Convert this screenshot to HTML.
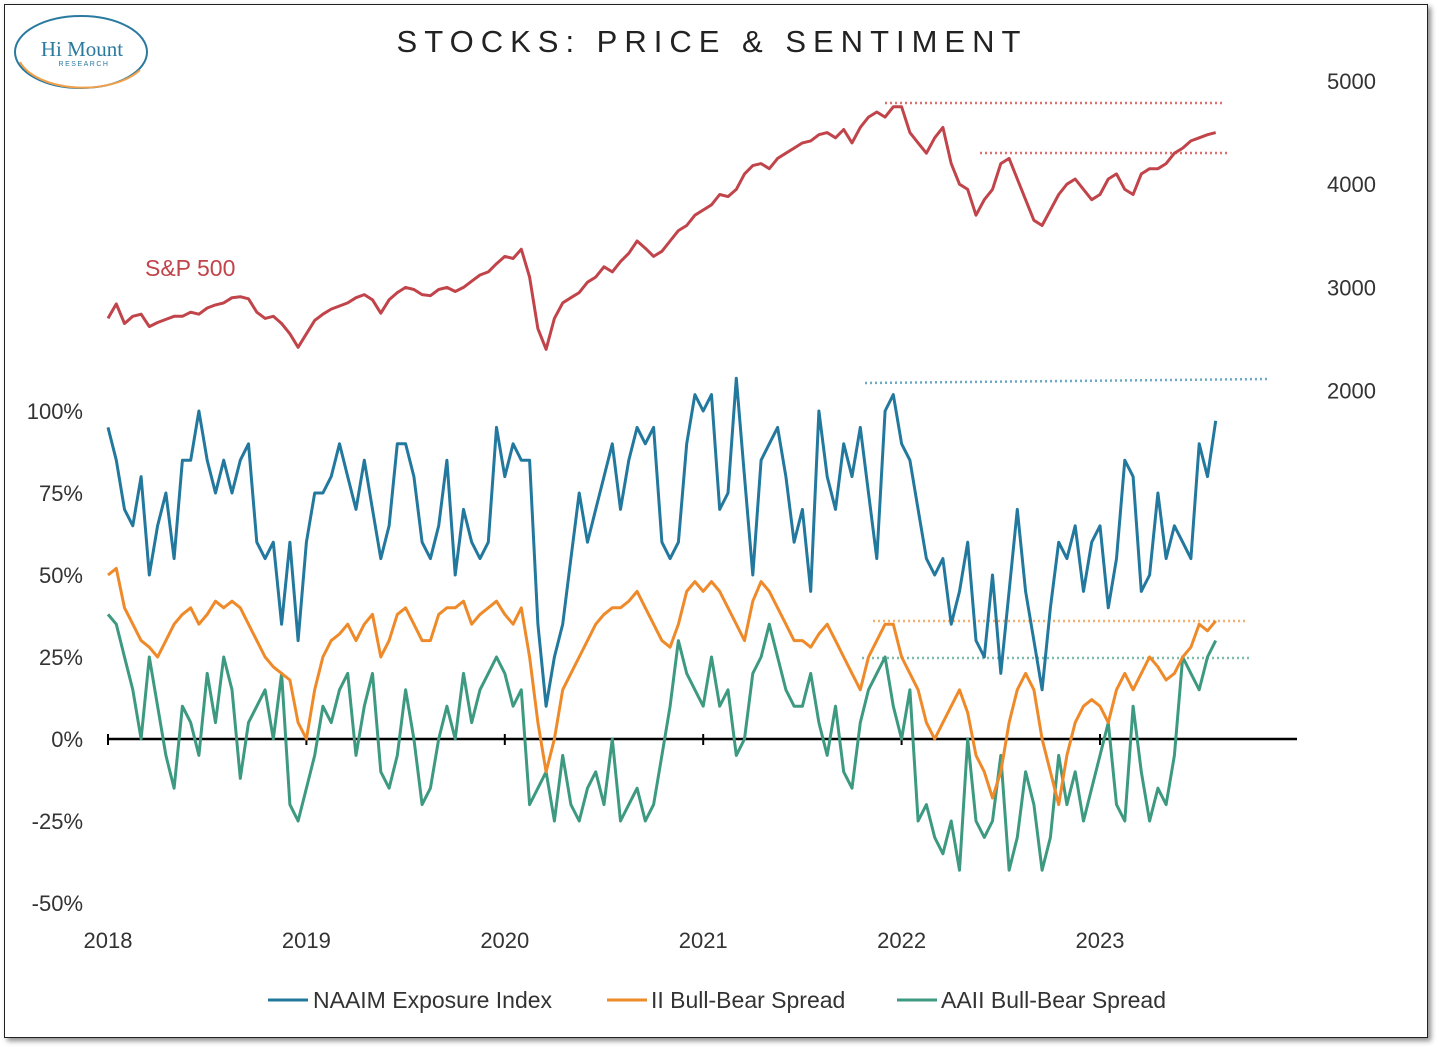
<!DOCTYPE html>
<html><head><meta charset="utf-8"><style>
html,body{margin:0;padding:0;background:#fff;}
body{width:1440px;height:1049px;position:relative;overflow:hidden;font-family:"Liberation Sans",sans-serif;}
#frame{position:absolute;left:4px;top:4px;width:1422px;height:1032px;border:1.5px solid #222;box-shadow:3px 3px 5px rgba(0,0,0,0.45);background:#fff;}
svg{position:absolute;left:0;top:0;}
</style></head><body>
<div id="frame"></div>
<svg id="chart" width="1440" height="1049">
  <g>
    <ellipse cx="81" cy="52" rx="66" ry="36" fill="none" stroke="#2a7aa0" stroke-width="2"/>
    <path d="M20,62 A66,36 0 0 0 140,70" fill="none" stroke="#f0a04a" stroke-width="2"/>
    <text x="82" y="56" text-anchor="middle" font-family="Liberation Serif,serif" font-size="21" fill="#2a7aa0">Hi Mount</text>
    <text x="84" y="66" text-anchor="middle" font-size="7" letter-spacing="1.5" fill="#2a7aa0">RESEARCH</text>
  </g>
  <text x="712" y="52" text-anchor="middle" font-size="31" letter-spacing="7" fill="#222">STOCKS: PRICE &amp; SENTIMENT</text>
  <text x="145" y="276" font-size="23" fill="#c0444a">S&amp;P 500</text>
  <g id="axes"></g>
  <g id="refs"></g>
  <g id="series"></g>
  <g>
    <line x1="268" y1="1000" x2="308" y2="1000" stroke="#23789e" stroke-width="3"/>
    <text x="313" y="1008" font-size="23" fill="#333">NAAIM Exposure Index</text>
    <line x1="607" y1="1000" x2="647" y2="1000" stroke="#ef8a2a" stroke-width="3"/>
    <text x="651" y="1008" font-size="23" fill="#333">II Bull-Bear Spread</text>
    <line x1="897" y1="1000" x2="937" y2="1000" stroke="#3d9a80" stroke-width="3"/>
    <text x="941" y="1008" font-size="23" fill="#333">AAII Bull-Bear Spread</text>
  </g>
</svg>
<script>
const yearTicks=[2018,2019,2020,2021,2022,2023];
const spxTicks=[5000,4000,3000,2000];
const pctTicks=[100,75,50,25,0,-25,-50];
const startYear=2018, stepsPerYear=24;
const spx=[2700,2840,2650,2720,2740,2620,2660,2690,2720,2720,2760,2740,2800,2830,2850,2900,2910,2890,2760,2700,2720,2650,2550,2420,
2550,2680,2740,2790,2820,2850,2900,2930,2880,2750,2880,2950,3000,2980,2930,2920,2980,3000,2960,3000,3060,3120,3150,3230,
3300,3280,3370,3100,2600,2400,2700,2850,2900,2950,3050,3100,3200,3150,3250,3330,3450,3380,3300,3350,3450,3550,3600,3700,
3750,3800,3900,3880,3950,4100,4180,4200,4150,4250,4300,4350,4400,4420,4480,4500,4450,4530,4400,4550,4650,4700,4650,4750,
4750,4500,4400,4300,4450,4550,4200,4000,3950,3700,3850,3950,4200,4250,4050,3850,3650,3600,3750,3900,4000,4050,3950,3850,
3900,4050,4100,3950,3900,4100,4150,4150,4200,4300,4350,4420,4450,4480,4500];
const naaim=[95,85,70,65,80,50,65,75,55,85,85,100,85,75,85,75,85,90,60,55,60,35,60,30,
60,75,75,80,90,80,70,85,70,55,65,90,90,80,60,55,65,85,50,70,60,55,60,95,
80,90,85,85,35,10,25,35,55,75,60,70,80,90,70,85,95,90,95,60,55,60,90,105,
100,105,70,75,110,80,50,85,90,95,80,60,70,45,100,80,70,90,80,95,75,55,100,105,
90,85,70,55,50,55,35,45,60,30,25,50,20,45,70,45,30,15,40,60,55,65,45,60,
65,40,55,85,80,45,50,75,55,65,60,55,90,80,97];
const ii=[50,52,40,35,30,28,25,30,35,38,40,35,38,42,40,42,40,35,30,25,22,20,18,5,
0,15,25,30,32,35,30,35,38,25,30,38,40,35,30,30,38,40,40,42,35,38,40,42,
38,35,40,25,5,-10,0,15,20,25,30,35,38,40,40,42,45,40,35,30,28,35,45,48,
45,48,45,40,35,30,42,48,45,40,35,30,30,28,32,35,30,25,20,15,25,30,35,35,
25,20,15,5,0,5,10,15,8,-5,-10,-18,-10,5,15,20,15,0,-10,-20,-5,5,10,12,
10,5,15,20,15,20,25,22,18,20,25,28,35,33,36];
const aaii=[38,35,25,15,0,25,10,-5,-15,10,5,-5,20,5,25,15,-12,5,10,15,0,20,-20,-25,
-15,-5,10,5,15,20,-5,10,20,-10,-15,-5,15,0,-20,-15,0,10,0,20,5,15,20,25,
20,10,15,-20,-15,-10,-25,-5,-20,-25,-15,-10,-20,0,-25,-20,-15,-25,-20,-5,10,30,20,15,
10,25,10,15,-5,0,20,25,35,25,15,10,10,20,5,-5,10,-10,-15,5,15,20,25,10,
0,15,-25,-20,-30,-35,-25,-40,0,-25,-30,-25,-5,-40,-30,-10,-20,-40,-30,-5,-20,-10,-25,-15,
-5,5,-20,-25,10,-10,-25,-15,-20,-5,25,20,15,25,30];

const NS='http://www.w3.org/2000/svg';
function xYear(y){return 108+(y-2018)*198.4;}
function xIdx(i){return xYear(startYear+i/stepsPerYear);}
function ySpx(v){return 81+(5000-v)*0.1032;}
function yPct(v){return 739-v*3.28;}
function mk(tag,attrs,parent){const e=document.createElementNS(NS,tag);for(const k in attrs)e.setAttribute(k,attrs[k]);parent.appendChild(e);return e;}
const axes=document.getElementById('axes');
const zl=mk('line',{x1:108,y1:739,x2:1297,y2:739,stroke:'#000','stroke-width':2.5},axes);


yearTicks.forEach(y=>{
  const t=mk('line',{x1:xYear(y),y1:734,x2:xYear(y),y2:745,stroke:'#000','stroke-width':2},axes);
  
  
  const l=mk('text',{x:xYear(y),y:948,'text-anchor':'middle','font-size':22,fill:'#333'},axes);
  l.textContent=y;
  
  
});
spxTicks.forEach(v=>{
  const l=mk('text',{x:1376,y:ySpx(v)+8,'text-anchor':'end','font-size':22,fill:'#333'},axes);
  l.textContent=v;
  
  
});
pctTicks.forEach(v=>{
  const l=mk('text',{x:83,y:yPct(v)+8,'text-anchor':'end','font-size':22,fill:'#333'},axes);
  l.textContent=v+'%';
  
  
});
const refs=document.getElementById('refs');
[[885,1225,103,103,'#e07070'],[980,1230,153,153,'#e07070'],[865,1268,383,379,'#6aaac8'],[873,1248,621,621,'#f5b070'],[862,1250,658,658,'#7cbcaa']].forEach(r=>{
  const l=mk('line',{x1:r[0],x2:r[1],y1:r[2],y2:r[3],stroke:r[4],'stroke-width':2.5,'stroke-dasharray':'2,3'},refs);
  
  
});
const ser=document.getElementById('series');
function draw(arr,yf,color,name){
  const d=arr.map((v,i)=>(i?'L':'M')+xIdx(i).toFixed(1)+','+yf(v).toFixed(1)).join(' ');
  const p=mk('path',{d:d,fill:'none',stroke:color,'stroke-width':3,'stroke-linejoin':'round'},ser);
  
  
}
draw(aaii,yPct,'#3d9a80','aaii-line');
draw(ii,yPct,'#ef8a2a','ii-line');
draw(naaim,yPct,'#23789e','naaim-line');
draw(spx,ySpx,'#c0444a','sp500-line');
</script>
</body></html>
